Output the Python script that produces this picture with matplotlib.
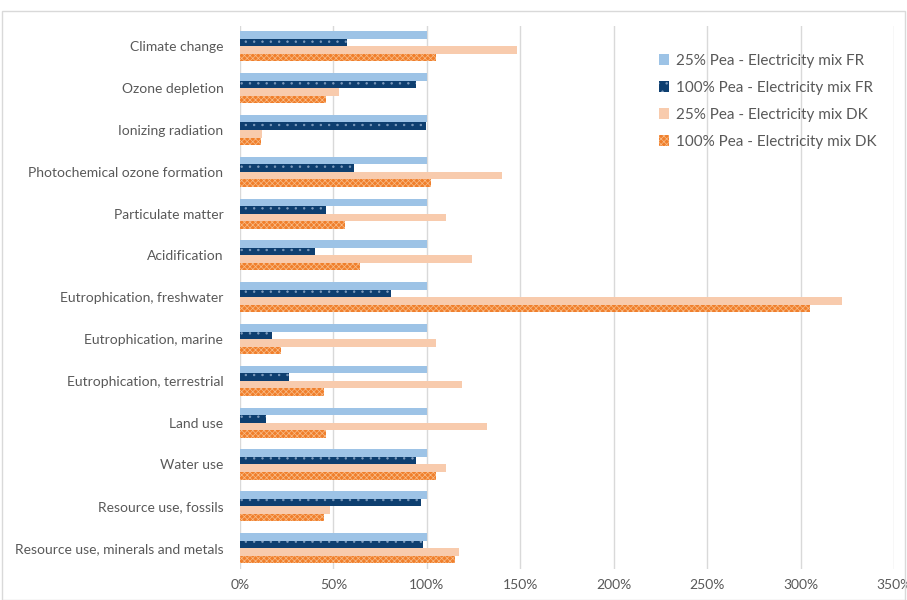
import matplotlib
matplotlib.use("Agg")
import matplotlib.pyplot as plt
import numpy as np
from matplotlib.ticker import FuncFormatter
from matplotlib.patches import Rectangle

categories = ["Climate change", "Ozone depletion", "Ionizing radiation",
              "Photochemical ozone formation", "Particulate matter", "Acidification",
              "Eutrophication, freshwater", "Eutrophication, marine",
              "Eutrophication, terrestrial", "Land use", "Water use",
              "Resource use, fossils", "Resource use, minerals and metals"]
pea25_fr = [100, 100, 100, 100, 100, 100, 100, 100, 100, 100, 100, 100, 100]
pea100_fr = [57, 94, 99.5, 61, 46, 40, 81, 17, 26, 14, 94, 97, 98]
pea25_dk = [148, 53, 12, 140, 110, 124, 322, 105, 119, 132, 110, 48, 117]
pea100_dk = [105, 46, 11, 102, 56, 64, 305, 22, 45, 46, 105, 45, 115]
series_names = ["25% Pea - Electricity mix FR", "100% Pea - Electricity mix FR",
                "25% Pea - Electricity mix DK", "100% Pea - Electricity mix DK"]
xticks = [0, 50, 100, 150, 200, 250, 300, 350]

plt.rcParams['font.family'] = ['Lato', 'DejaVu Sans']
plt.rcParams['hatch.linewidth'] = 0.5

fig = plt.figure(figsize=(9.07, 6.0), dpi=100)
ax_top, ax_bot = 25.5, 569.0
ax = fig.add_axes([240/907, 1 - ax_bot/600, (894-240)/907, (ax_bot-ax_top)/600])

y = np.arange(len(categories))
h = 0.18
series = [pea25_fr, pea100_fr, pea25_dk, pea100_dk]
colors = ["#9DC3E6", "#0E3F70", "#F8CBAD", "#F07F2C"]
hatches = [None, "..", None, "xxxxxx"]
hcolors = [None, "#7F9CBD", None, "#F8BD8A"]
offsets = [-1.5*h, -0.5*h, 0.5*h, 1.5*h]
for vals, c, hat, hc, off, name in zip(series, colors, hatches, hcolors, offsets, series_names):
    if hat:
        ax.barh(y + off, vals, height=h, color=c, edgecolor=hc, hatch=hat,
                linewidth=0, label=name, zorder=3)
    else:
        ax.barh(y + off, vals, height=h, color=c, linewidth=0, label=name, zorder=3)

ax.set_xlim(0, 350)
ax.set_ylim(len(categories) - 0.5, -0.5)
ax.set_xticks(xticks)
ax.xaxis.set_major_formatter(FuncFormatter(lambda v, p: f"{int(v)}%"))
ax.set_yticks(y)
ax.set_yticklabels(categories)
ax.tick_params(axis='both', length=0, colors="#595959", labelsize=10)
ax.tick_params(axis='x', pad=7)
ax.tick_params(axis='y', pad=12)
ax.grid(axis='x', color="#D9D9D9", linewidth=1, zorder=0)
for s in ax.spines.values():
    s.set_visible(False)

leg = ax.legend(loc='upper left', bbox_to_anchor=((645-240)/654, (ax_bot-40)/(ax_bot-ax_top)),
                frameon=False, fontsize=11, labelspacing=0.85, handlelength=0.7,
                handleheight=0.7, handletextpad=0.4, labelcolor="#595959")

fig.patches.append(Rectangle((0.002, 0.0), 0.996, 0.982, transform=fig.transFigure,
                             fill=False, edgecolor="#D9D9D9", linewidth=1))

fig.savefig("out.png", dpi=100)
